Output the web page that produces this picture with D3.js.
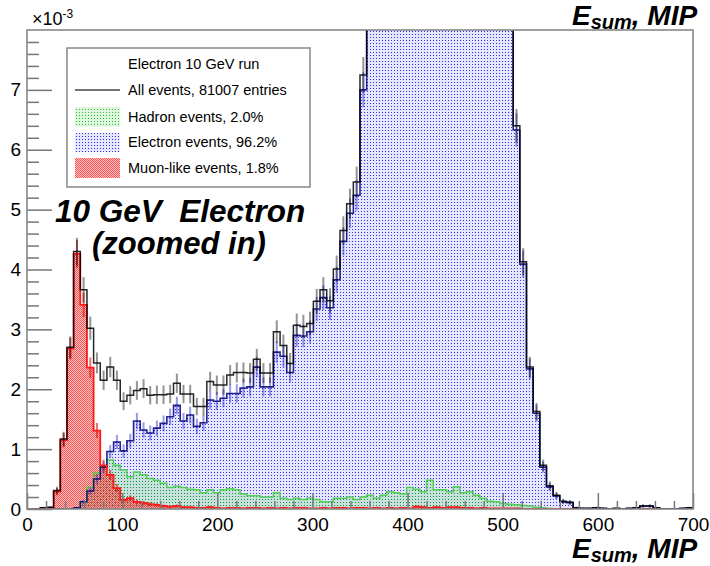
<!DOCTYPE html>
<html>
<head>
<meta charset="utf-8">
<script src="https://cdn.jsdelivr.net/npm/d3@7"></script>
<style>
  html, body { margin: 0; padding: 0; background: #fff; }
  svg { display: block; font-family: "Liberation Sans", Arial, Helvetica, sans-serif; }
  .pre { white-space: pre; }
</style>
</head>
<body>
<svg id="chart" width="710" height="566"></svg>
<script>
// Histogram binning: 100 bins of 7 MIP from 0 to 700
const binWidth = 7;
const nBins = 100;
const xDomain = [0, 700];
const yDomain = [0, 8];            // in units of 1e-3
const totalEntries = 81007;

// Normalised bin contents (x 1e-3), bin i covers [7i, 7i+7)
const allEvents = [
  0, 0, 0.02, 0.03, 0.31, 1.17, 2.70, 4.30, 3.66, 3.02,
  2.44, 2.15, 2.37, 2.15, 1.80, 1.90, 1.98, 2.01, 1.90, 1.91,
  1.91, 1.92, 2.10, 1.92, 1.92, 1.71, 1.71, 2.13, 2.07, 2.07,
  2.24, 2.28, 2.28, 2.27, 2.50, 2.27, 2.27, 2.96, 2.73, 2.43,
  3.07, 3.05, 3.10, 3.47, 3.66, 3.48, 4.01, 4.65, 5.10, 5.46,
  7.25, 9.5, 12.0, 14.5, 17.5, 21.0, 25.0, 29.0, 33.5, 38.0,
  43.0, 48.0, 53.0, 58.0, 61.5, 64.0, 65.0, 64.0, 60.0, 52.5,
  42.0, 29.5, 17.0, 6.40, 4.13, 2.37, 1.63, 0.73, 0.39, 0.23,
  0.13, 0.11, 0.02, 0.01, 0.01, 0.02, 0.01, 0, 0.01, 0,
  0.01, 0.02, 0.05, 0.05, 0.02, 0, 0, 0, 0.01, 0.02
];
const electronEvents = [
  0, 0, 0, 0, 0, 0, 0, 0.02, 0.12, 0.30,
  0.50, 0.70, 0.96, 1.12, 0.97, 1.14, 1.47, 1.32, 1.27, 1.35,
  1.43, 1.54, 1.73, 1.47, 1.57, 1.38, 1.44, 1.82, 1.80, 1.85,
  1.93, 1.93, 2.02, 2.04, 2.37, 2.04, 2.04, 2.62, 2.55, 2.28,
  2.90, 2.89, 2.96, 3.34, 3.53, 3.36, 3.83, 4.47, 4.94, 5.24,
  7.00, 9.25, 11.8, 14.25, 17.2, 20.7, 24.7, 28.6, 33.1, 37.7,
  42.5, 47.6, 52.6, 57.7, 61.1, 63.7, 64.7, 63.7, 59.8, 52.4,
  41.9, 29.4, 16.9, 6.33, 4.09, 2.34, 1.60, 0.70, 0.37, 0.22,
  0.12, 0.11, 0.02, 0.01, 0.01, 0.02, 0.01, 0, 0.01, 0,
  0.01, 0.02, 0.05, 0.05, 0.02, 0, 0, 0, 0.01, 0.02
];
const hadronEvents = [
  0, 0, 0, 0, 0, 0, 0, 0.02, 0.12, 0.36,
  0.60, 0.72, 0.82, 0.73, 0.65, 0.54, 0.62, 0.57, 0.51, 0.48,
  0.43, 0.36, 0.38, 0.36, 0.33, 0.32, 0.27, 0.32, 0.27, 0.32,
  0.34, 0.32, 0.25, 0.22, 0.22, 0.20, 0.20, 0.27, 0.18, 0.16,
  0.18, 0.16, 0.18, 0.16, 0.12, 0.12, 0.18, 0.18, 0.20, 0.16,
  0.20, 0.23, 0.18, 0.23, 0.29, 0.27, 0.25, 0.36, 0.33, 0.29,
  0.48, 0.32, 0.32, 0.29, 0.37, 0.27, 0.29, 0.23, 0.18, 0.13,
  0.12, 0.09, 0.08, 0.07, 0.06, 0.05, 0.03, 0.02, 0.01, 0,
  0, 0, 0, 0, 0, 0, 0, 0, 0, 0,
  0, 0, 0, 0, 0, 0, 0, 0, 0, 0
];
const muonEvents = [
  0, 0, 0.02, 0.02, 0.29, 1.15, 2.68, 4.26, 3.41, 2.36,
  1.31, 0.73, 0.57, 0.35, 0.15, 0.18, 0.12, 0.10, 0.08, 0.07,
  0.05, 0.04, 0.05, 0.03, 0.03, 0.02, 0.02, 0.03, 0.02, 0.01,
  0.02, 0.02, 0.01, 0.02, 0.02, 0.01, 0.02, 0.01, 0.02, 0.01,
  0.02, 0.02, 0.01, 0.01, 0.02, 0.01, 0.02, 0.02, 0.01, 0.02,
  0.02, 0.01, 0.02, 0.01, 0.02, 0.01, 0.02, 0.01, 0.04, 0.03,
  0.02, 0.03, 0.02, 0.03, 0.03, 0.02, 0.02, 0.01, 0.02, 0.01,
  0.01, 0.01, 0.01, 0.01, 0, 0, 0, 0, 0, 0,
  0, 0, 0, 0, 0, 0, 0, 0, 0, 0,
  0, 0, 0, 0, 0, 0, 0, 0, 0, 0
];

const xMajorTicks = [0, 100, 200, 300, 400, 500, 600, 700];
const yMajorTicks = [0, 1, 2, 3, 4, 5, 6, 7];
const legendTitle = "Electron 10 GeV run";
const legendLabels = ["All events, 81007 entries", "Hadron events, 2.0%", "Electron events, 96.2%", "Muon-like events, 1.8%"];
const axisTitle = ["E", "sum", ", MIP"];
const annotation = ["10 GeV  Electron", "(zoomed in)"];

const svg = d3.select("#chart");
const plot = { left: 27, right: 693, top: 30, bottom: 509 };

const x = d3.scaleLinear().domain(xDomain).range([plot.left, plot.right]);
const y = d3.scaleLinear().domain(yDomain).range([plot.bottom, plot.top]);

// ---------- fill patterns ----------
const defs = svg.append("defs");
function dotPattern(id, size, bg, dots) {
  const p = defs.append("pattern").attr("id", id)
    .attr("patternUnits", "userSpaceOnUse").attr("width", size).attr("height", size);
  p.append("rect").attr("width", size).attr("height", size).attr("fill", bg);
  dots.forEach(d => p.append("rect").attr("x", d[0]).attr("y", d[1])
    .attr("width", 1).attr("height", 1).attr("fill", d[2]));
}
dotPattern("pBlue", 3, "rgba(80,80,255,0.14)", [[1, 1, "#3030ff"]]);
dotPattern("pGreen", 3, "rgba(0,190,0,0.13)", [[1, 1, "rgba(0,175,0,0.8)"]]);
dotPattern("pRed", 2, "rgba(255,0,0,0.22)", [[0, 0, "rgba(255,0,0,0.6)"], [1, 1, "rgba(255,0,0,0.6)"]]);

defs.append("clipPath").attr("id", "plotClip").append("rect")
  .attr("x", plot.left).attr("y", plot.top)
  .attr("width", plot.right - plot.left).attr("height", plot.bottom - plot.top);

// ---------- histogram helpers ----------
function binPoints(values) {
  const pts = values.map((v, i) => ({ e: xDomain[0] + i * binWidth, v }));
  pts.push({ e: xDomain[0] + nBins * binWidth, v: values[values.length - 1] });
  return pts;
}
const stepLine = d3.line().curve(d3.curveStepAfter).x(d => x(d.e)).y(d => y(d.v));
const stepArea = d3.area().curve(d3.curveStepAfter).x(d => x(d.e)).y0(y(0)).y1(d => y(d.v));

// Poisson uncertainty of a normalised bin content
const binError = v => Math.sqrt(v * 1000 / totalEntries);

const g = svg.append("g").attr("clip-path", "url(#plotClip)");

function drawFill(values, pattern) {
  g.append("path").datum(binPoints(values)).attr("d", stepArea).attr("fill", `url(#${pattern})`);
}
function drawErrors(values, color, width) {
  g.append("g").selectAll("line")
    .data(values.map((v, i) => ({ v, c: xDomain[0] + (i + 0.5) * binWidth })).filter(d => d.v > 0))
    .join("line")
    .attr("x1", d => x(d.c)).attr("x2", d => x(d.c))
    .attr("y1", d => y(d.v - binError(d.v))).attr("y2", d => y(d.v + binError(d.v)))
    .attr("stroke", color).attr("stroke-width", width);
}
function drawLine(values, color, width) {
  g.append("path").datum(binPoints(values)).attr("d", stepLine)
    .attr("fill", "none").attr("stroke", color).attr("stroke-width", width);
}

drawFill(electronEvents, "pBlue");
drawFill(hadronEvents, "pGreen");
drawFill(muonEvents, "pRed");

drawLine(hadronEvents, "rgba(70,205,70,0.9)", 1.5);

drawErrors(electronEvents, "rgba(30,30,200,0.45)", 2);
drawLine(electronEvents, "rgba(0,0,120,0.85)", 1.6);

drawErrors(muonEvents, "rgba(200,0,0,0.55)", 2);
drawLine(muonEvents, "#ff1a1a", 1.8);

drawErrors(allEvents, "rgba(0,0,0,0.42)", 2);
drawLine(allEvents, "rgba(0,0,0,0.85)", 1.5);

// ---------- axes ----------
const tickColor = "#777";
const xMinor = d3.range(xDomain[0], xDomain[1] + 1, 20).filter(v => v % 100 !== 0);
const yMinor = d3.range(0, 40).map(k => k * 0.2).filter(v => Math.abs(v - Math.round(v)) > 1e-6);

function styleAxis(sel) {
  sel.select(".domain").remove();
  sel.selectAll("line").attr("stroke", tickColor).attr("stroke-width", 1.5);
  sel.selectAll("text").attr("fill", "#000").style("font-size", "19px")
    .style("font-family", '"Liberation Sans", Arial, sans-serif');
}

svg.append("g").attr("transform", `translate(0,${plot.bottom})`)
  .call(d3.axisBottom(x).tickValues(xMinor).tickFormat("").tickSizeInner(-8).tickSizeOuter(0))
  .call(styleAxis);
svg.append("g").attr("transform", `translate(0,${plot.bottom})`)
  .call(d3.axisBottom(x).tickValues(xMajorTicks).tickFormat(d3.format("d")).tickSizeInner(-16).tickSizeOuter(0).tickPadding(9))
  .call(styleAxis);

svg.append("g").attr("transform", `translate(${plot.left},0)`)
  .call(d3.axisLeft(y).tickValues(yMinor).tickFormat("").tickSizeInner(-12).tickSizeOuter(0))
  .call(styleAxis);
svg.append("g").attr("transform", `translate(${plot.left},0)`)
  .call(d3.axisLeft(y).tickValues(yMajorTicks).tickFormat(d3.format("d")).tickSizeInner(-25).tickSizeOuter(0).tickPadding(6))
  .call(styleAxis);

// frame
svg.append("rect")
  .attr("x", plot.left).attr("y", plot.top)
  .attr("width", plot.right - plot.left).attr("height", plot.bottom - plot.top)
  .attr("fill", "none").attr("stroke", "#888").attr("stroke-width", 1.6);

// exponent label
const expo = svg.append("text").attr("x", 32).attr("y", 25).style("font-size", "18px");
expo.append("tspan").text("\u00d710");
expo.append("tspan").attr("dy", -7).style("font-size", "12px").text("-3");

// axis title (top and bottom)
function axisTitleText(yBase) {
  const t = svg.append("text").attr("x", 572).attr("y", yBase)
    .style("font-weight", "bold").style("font-style", "italic").style("font-size", "28px");
  t.append("tspan").text(axisTitle[0]);
  t.append("tspan").attr("dy", 4).style("font-size", "20px").text(axisTitle[1]);
  t.append("tspan").attr("dy", -4).text(axisTitle[2]);
}
axisTitleText(25);
axisTitleText(558);

// annotation
svg.append("text").attr("class", "pre").attr("x", 55).attr("y", 222)
  .style("font-weight", "bold").style("font-style", "italic").style("font-size", "31.5px")
  .text(annotation[0]);
svg.append("text").attr("x", 92).attr("y", 254)
  .style("font-weight", "bold").style("font-style", "italic").style("font-size", "31px")
  .text(annotation[1]);

// ---------- legend ----------
const lg = svg.append("g");
lg.append("rect").attr("x", 67).attr("y", 48).attr("width", 243).attr("height", 139)
  .attr("fill", "#fff").attr("stroke", "#888").attr("stroke-width", 1.5);
const legendFont = "14.5px";
lg.append("text").attr("x", 128).attr("y", 64).attr("dy", "0.35em")
  .style("font-size", legendFont).text(legendTitle);

const rows = [90, 117, 142, 168];
lg.append("line").attr("x1", 75).attr("x2", 120).attr("y1", rows[0]).attr("y2", rows[0])
  .attr("stroke", "#444").attr("stroke-width", 1.5);
[["pGreen", 107, 127], ["pBlue", 133, 152], ["pRed", 158, 178]].forEach(([p, y0, y1]) => {
  lg.append("rect").attr("x", 75).attr("y", y0).attr("width", 45).attr("height", y1 - y0)
    .attr("fill", `url(#${p})`);
});
legendLabels.forEach((t, i) => {
  lg.append("text").attr("x", 128).attr("y", rows[i]).attr("dy", "0.35em")
    .style("font-size", legendFont).text(t);
});
</script>
</body>
</html>
